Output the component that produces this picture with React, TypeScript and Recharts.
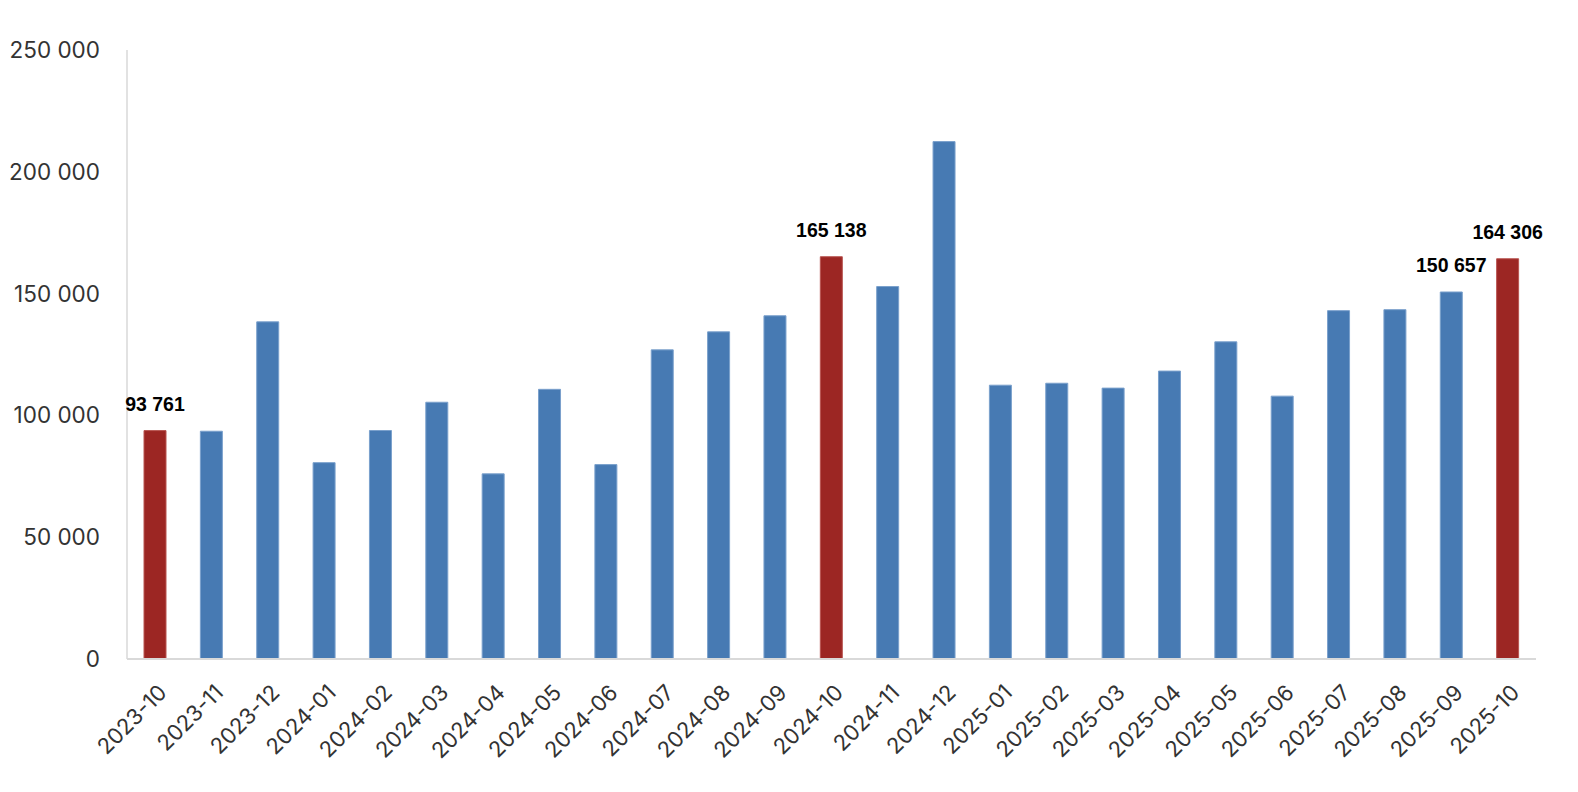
import { Bar, BarChart, Cell, LabelList, XAxis, YAxis } from "recharts";

const months = [
  "2023-10", "2023-11", "2023-12", "2024-01", "2024-02", "2024-03", "2024-04",
  "2024-05", "2024-06", "2024-07", "2024-08", "2024-09", "2024-10", "2024-11",
  "2024-12", "2025-01", "2025-02", "2025-03", "2025-04", "2025-05", "2025-06",
  "2025-07", "2025-08", "2025-09", "2025-10",
];

const values = [
  93761, 93500, 138400, 80600, 93800, 105400, 76000, 110700, 79800, 126900,
  134300, 140900, 165138, 152900, 212400, 112400, 113200, 111200, 118200,
  130200, 107900, 143000, 143400, 150657, 164306,
];

const highlighted = ["2023-10", "2024-10", "2025-10"];
const labelled = ["2023-10", "2024-10", "2025-09", "2025-10"];

const yTicks = [0, 50000, 100000, 150000, 200000, 250000];

const data = months.map((month, i) => ({ month, value: values[i] }));

function formatNumber(value: number) {
  return String(Math.round(value)).replace(/\B(?=(\d{3})+(?!\d))/g, " ");
}

function XTick({ x, y, payload }: any) {
  const tx = x + 13;
  const ty = y + 27;
  return (
    <text
      x={tx}
      y={ty}
      transform={`rotate(-45 ${tx} ${ty})`}
      textAnchor="end"
      fontFamily="Inter"
      fontSize={22}
      fill="#333"
    >
      {payload.value}
    </text>
  );
}

function ValueLabel({ x, y, width, value, index }: any) {
  if (!labelled.includes(months[index])) return null;
  return (
    <text
      x={x + width / 2}
      y={y - 20}
      textAnchor="middle"
      fontFamily="Liberation Sans"
      fontWeight="bold"
      fontSize={19.5}
      fill="#000"
    >
      {formatNumber(value)}
    </text>
  );
}

export default function App() {
  return (
    <div style={{ position: "absolute", left: 0, top: 0, background: "#fff" }}>
      <BarChart
        width={1578}
        height={792}
        data={data}
        margin={{ top: 50, right: 42, left: 0, bottom: 0 }}
        barSize={22}
      >
        <XAxis
          dataKey="month"
          height={133}
          interval={0}
          axisLine={{ stroke: "#d9d9d9", strokeWidth: 2 }}
          tickLine={false}
          tick={<XTick />}
        />
        <YAxis
          width={127}
          domain={[0, 250000]}
          ticks={yTicks}
          axisLine={{ stroke: "#d9d9d9", strokeWidth: 1.5 }}
          tickLine={false}
          tickSize={6}
          tickMargin={21}
          tickFormatter={formatNumber}
          tick={{ fontFamily: "Inter", fontSize: 22.5, fill: "#333" }}
        />
        <Bar dataKey="value" isAnimationActive={false}>
          {data.map((entry) => {
            const red = highlighted.includes(entry.month);
            return (
              <Cell
                key={entry.month}
                fill={red ? "#9c2623" : "#477ab3"}
                stroke={red ? "#b85450" : "#7aa0cc"}
                strokeWidth={1}
              />
            );
          })}
          <LabelList dataKey="value" content={<ValueLabel />} />
        </Bar>
      </BarChart>
    </div>
  );
}
